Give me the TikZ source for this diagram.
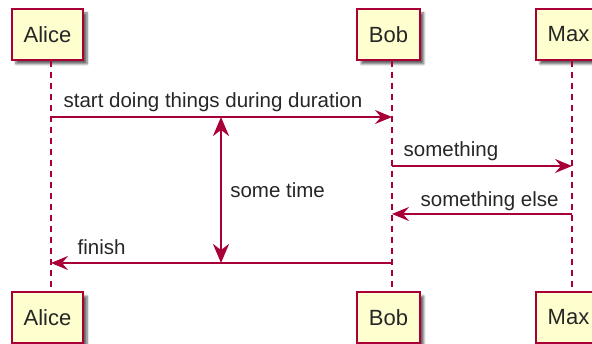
\documentclass[tikz,border=0pt]{standalone}
\usepackage{fontspec}
\setmainfont{Liberation Sans}
\usetikzlibrary{arrows.meta,shadows.blur}
\definecolor{umlred}{HTML}{A80036}
\definecolor{umlyellow}{HTML}{FEFECE}

\begin{document}
\begin{tikzpicture}[x=1pt, y=-1pt,
  part/.style={draw=umlred, line width=1.5pt, fill=umlyellow, minimum height=51pt,
    inner xsep=11.7pt, font=\fontsize{22}{26}\selectfont, text=black!85,
    blur shadow={shadow xshift=4pt, shadow yshift=-4pt, shadow blur steps=6, shadow opacity=60}},
  lifeline/.style={umlred, line width=1.2pt, dash pattern=on 6pt off 5pt},
  msg/.style={umlred, line width=1.3pt, -{Stealth[length=17pt, width=14pt, inset=6pt]}},
  msgtext/.style={font=\fontsize{20.5}{24}\selectfont, text=black!85, inner sep=0pt},
  dur/.style={umlred, line width=2.6pt,
    {Stealth[length=19pt, width=16pt, inset=6pt]}-{Stealth[length=19pt, width=16pt, inset=6pt]}}]
\useasboundingbox (0,0) rectangle (592,344);

% Lifeline positions and message rows
\coordinate (la) at (51,0);
\coordinate (lb) at (392,0);
\coordinate (lm) at (572,0);
\coordinate (dx) at (221,0);
\coordinate (r1) at (0,117);
\coordinate (r2) at (0,166);
\coordinate (r3) at (0,214);
\coordinate (r4) at (0,263);

% Participants top and bottom
\node[part] (alice) at (47.5,34.5) {Alice};
\node[part] (bob) at (388.5,34.5) {Bob};
\node[part] (max) at (568.5,34.5) {Max};
\node[part] (alice2) at (47.5,317.5) {Alice};
\node[part] (bob2) at (388.5,317.5) {Bob};
\node[part] (max2) at (568.5,317.5) {Max};

% Lifelines
\draw[lifeline] (la |- alice.south) -- (la |- alice2.north);
\draw[lifeline] (lb |- bob.south) -- (lb |- bob2.north);
\draw[lifeline] (lm |- max.south) -- (lm |- max2.north);

% Messages
\draw[msg] (la |- r1) -- (lb |- r1)
  node[msgtext, pos=0, anchor=base west, xshift=12pt, yshift=9pt] {start doing things during duration};
\draw[msg] (lb |- r2) -- (lm |- r2)
  node[msgtext, pos=0, anchor=base west, xshift=11pt, yshift=9pt] {something};
\draw[msg] (lm |- r3) -- (lb |- r3)
  node[msgtext, pos=1, anchor=base west, xshift=28pt, yshift=7pt] {something else};
\draw[msg] (lb |- r4) -- (la |- r4)
  node[msgtext, pos=1, anchor=base west, xshift=26pt, yshift=8pt] {finish};

% Duration
\draw[dur] (dx |- r1) -- (dx |- r4)
  node[msgtext, midway, anchor=west, xshift=8pt] {some time};
\end{tikzpicture}
\end{document}
